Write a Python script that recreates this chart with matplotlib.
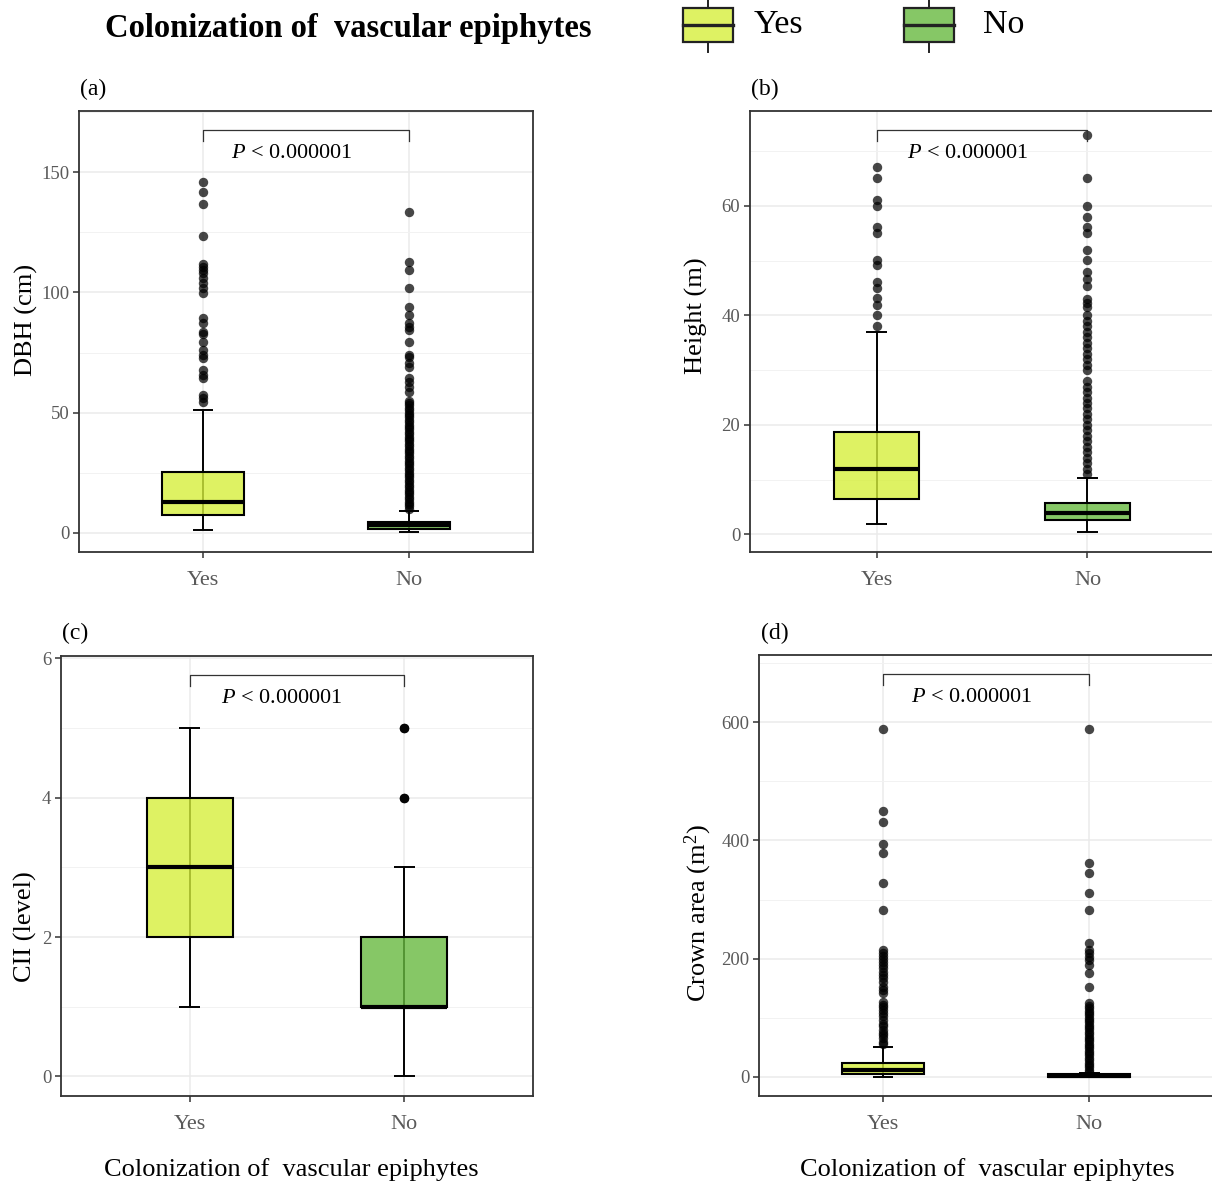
import matplotlib
matplotlib.use("Agg")
import matplotlib.pyplot as plt
from matplotlib.patches import Rectangle
from matplotlib.lines import Line2D
from matplotlib.ticker import MultipleLocator
import matplotlib.transforms as mtransforms

plt.rcParams['font.family'] = ['Liberation Serif', 'DejaVu Serif']
plt.rcParams['mathtext.fontset'] = 'custom'
plt.rcParams['mathtext.rm'] = 'Liberation Serif'
plt.rcParams['mathtext.it'] = 'Liberation Serif:italic'

groups = ["Yes", "No"]
yes_color = (214/255, 239/255, 60/255, 0.8)
no_color = (104/255, 186/255, 64/255, 0.8)
p_text = r'$P$ < 0.000001'
x_title = "Colonization of  vascular epiphytes"

# box stats: whislo, q1, median, q3, whishi
dbh_yes = [1.1, 7.4, 12.9, 25.4, 51.1]
dbh_no = [0.4, 1.5, 3.1, 4.6, 9.2]
dbh_yes_out = [146.1, 141.9, 136.8, 123.5, 111.8, 110.7, 109.3, 107.9, 105.9,
               103.8, 101.7, 99.6, 89.2, 87.1, 83.6, 82.7, 79.5, 76.0, 73.9,
               72.6, 67.7, 65.6, 64.2, 57.3, 55.9, 54.5]
dbh_no_out = [10, 11, 12, 13, 14, 15, 16, 17, 18, 19, 20, 21, 22, 23, 24, 25,
              26, 27, 28, 29, 30, 31, 32, 33, 34, 35, 36, 37, 38, 39, 40, 41,
              42, 43, 44, 45, 46, 47, 48, 49, 50, 51, 52, 53, 54, 55,
              58.7, 60.8, 62.8, 64.2, 69.1, 70.5, 73.2, 73.9, 79.5, 84.4, 85.7,
              87.1, 90.6, 94.0, 101.7, 109.3, 112.8, 133.6]

height_yes = [1.9, 6.4, 11.9, 18.7, 37.0]
height_no = [0.4, 2.6, 3.9, 5.8, 10.3]
height_yes_out = [67.0, 65.0, 61.0, 60.0, 56.1, 55.0, 50.1, 49.2, 46.1, 44.9,
                  43.1, 41.9, 40.0, 38.0]
height_no_out = [72.9, 65.0, 60.0, 58.0, 56.1, 55.0, 51.9, 50.1, 47.9, 46.7,
                 45.3, 43.0, 42.2, 41.6, 40.0, 39, 38, 37, 36, 35, 34, 33, 32,
                 31, 30, 28, 27, 26, 25, 24, 23, 22, 21, 20, 19, 18, 17, 16,
                 15, 14, 13, 12, 11]

cii_yes = [1, 2, 3, 4, 5]
cii_no = [0, 1, 1, 2, 3]
cii_yes_out = []
cii_no_out = [4, 4, 4, 5, 5, 5]

crown_yes = [0, 4.0, 11.0, 23.7, 50.8]
crown_no = [0, 0.3, 1.5, 4.0, 6.8]
crown_yes_out = [589, 450, 432, 394, 379, 328, 282, 214, 209, 205, 200, 195,
                 189, 184, 178, 172, 167, 161, 152, 147, 141, 127, 122, 118,
                 113, 108, 102, 96, 90, 85, 79, 74, 70, 65, 59, 55]
crown_no_out = [589, 361.3, 345.5, 310.5, 282.3, 225.9, 214.5, 209, 203.2,
                197.6, 189.1, 176.1, 152.4, 124, 120, 116, 112, 108, 104, 100,
                96, 92, 88, 84, 80, 76, 72, 68, 64, 60, 56, 52, 48, 44, 40, 36,
                32, 28, 24, 20, 16, 12, 8]

W, H = 1212, 1184
fig = plt.figure(figsize=(W / 100, H / 100), dpi=100)


def px_rect(left, top, right, bottom):
    return [left / W, 1 - bottom / H, (right - left) / W, (bottom - top) / H]


def fx(x):
    return x / W


def fy(y):
    return 1 - y / H


def draw_panel(ax, stats, outs, ylim, major, minor):
    positions = [1, 2]
    colors = [yes_color, no_color]
    ax.set_axisbelow(True)
    ax.grid(which='major', color='#EBEBEB', lw=1.1, zorder=0)
    ax.grid(which='minor', axis='y', color='#F2F2F2', lw=0.7, zorder=0)
    for pos, st in zip(positions, stats):
        ax.vlines(pos, st[0], st[4], colors='black', lw=1.4, zorder=2)
        ax.hlines([st[0], st[4]], pos - 0.05, pos + 0.05, colors='black',
                  lw=1.4, zorder=2)
    bstats = [dict(whislo=s[0], q1=s[1], med=s[2], q3=s[3], whishi=s[4],
                   fliers=[]) for s in stats]
    res = ax.bxp(bstats, positions=positions, widths=0.4, patch_artist=True,
                 showcaps=False, showfliers=False,
                 boxprops=dict(edgecolor='black', lw=1.5),
                 whiskerprops=dict(lw=0),
                 medianprops=dict(color='black', lw=3.0, solid_capstyle='butt'))
    for patch, c in zip(res['boxes'], colors):
        patch.set_facecolor(c)
        patch.set_zorder(3)
    for med in res['medians']:
        med.set_zorder(4)
    for pos, out in zip(positions, outs):
        if out:
            ax.scatter([pos] * len(out), out, s=46, color='black', alpha=0.72,
                       linewidths=0, zorder=5)
    ax.set_xlim(0.4, 2.6)
    ax.set_ylim(*ylim)
    ax.set_xticks(positions)
    ax.set_xticklabels(groups)
    ax.yaxis.set_major_locator(MultipleLocator(major))
    ax.yaxis.set_minor_locator(MultipleLocator(minor))
    ax.tick_params(which='minor', length=0)
    ax.tick_params(axis='y', which='major', length=4, width=1.1,
                   color='#333333', labelcolor='#5A5A5A', labelsize=13.5,
                   pad=3)
    ax.tick_params(axis='x', which='major', length=4, width=1.1,
                   color='#333333', labelcolor='#5A5A5A', labelsize=16,
                   pad=10)
    for sp in ax.spines.values():
        sp.set_color('#333333')
        sp.set_linewidth(1.3)
    # significance bracket
    trans = mtransforms.blended_transform_factory(ax.transData, ax.transAxes)
    ax.plot([1, 1, 2, 2], [0.932, 0.956, 0.956, 0.932], color='#333333',
            lw=0.9, transform=trans, clip_on=False, zorder=6)
    ax.text(1.43, 0.903, p_text, transform=trans, ha='center', va='center',
            fontsize=16, color='black', zorder=6)


ax_a = fig.add_axes(px_rect(79, 111, 533, 552))
ax_b = fig.add_axes(px_rect(750, 111, 1214, 552))
ax_c = fig.add_axes(px_rect(61, 656, 533, 1096))
ax_d = fig.add_axes(px_rect(759, 655, 1213, 1096))

draw_panel(ax_a, [dbh_yes, dbh_no], [dbh_yes_out, dbh_no_out],
           (-8.0, 175.5), 50, 25)
draw_panel(ax_b, [height_yes, height_no], [height_yes_out, height_no_out],
           (-3.2, 77.3), 20, 10)
draw_panel(ax_c, [cii_yes, cii_no], [cii_yes_out, cii_no_out],
           (-0.28, 6.03), 2, 1)
draw_panel(ax_d, [crown_yes, crown_no], [crown_yes_out, crown_no_out],
           (-32.7, 714), 200, 100)

# axis titles
fig.text(fx(26), fy(320), "DBH (cm)", rotation=90, ha='center', va='center',
         fontsize=19)
fig.text(fx(696), fy(316), "Height (m)", rotation=90, ha='center',
         va='center', fontsize=19)
fig.text(fx(25), fy(927), "CII (level)", rotation=90, ha='center',
         va='center', fontsize=19)
fig.text(fx(698), fy(913), r"Crown area (m$^2$)", rotation=90, ha='center',
         va='center', fontsize=19)
fig.text(fx(291), fy(1170), x_title, ha='center', va='center', fontsize=19)
fig.text(fx(987), fy(1170), x_title, ha='center', va='center', fontsize=19)

# panel tags
for label, x, y in [("(a)", 80, 89), ("(b)", 751, 89),
                    ("(c)", 62, 633), ("(d)", 761, 633)]:
    fig.text(fx(x), fy(y), label, ha='left', va='center', fontsize=17)

# title and legend
fig.text(fx(348), fy(29), x_title, ha='center', va='center', fontsize=23.5,
         fontweight='bold')

for name, color, left, text_x in [("Yes", yes_color, 683, 754),
                                  ("No", no_color, 904, 983)]:
    right = left + 50
    mid = (left + right) / 2
    fig.add_artist(Line2D([fx(mid), fx(mid)], [fy(0), fy(52)],
                          color='#222222', lw=1.4, transform=fig.transFigure,
                          zorder=1))
    fig.add_artist(Rectangle((fx(left), fy(42)), fx(right) - fx(left),
                             fy(8) - fy(42), facecolor='white',
                             edgecolor='none', transform=fig.transFigure,
                             zorder=2))
    fig.add_artist(Rectangle((fx(left), fy(42)), fx(right) - fx(left),
                             fy(8) - fy(42), facecolor=color,
                             edgecolor='#222222', lw=1.6,
                             transform=fig.transFigure, zorder=3))
    fig.add_artist(Line2D([fx(left), fx(right)], [fy(24.5), fy(24.5)],
                          color='#222222', lw=2.4, transform=fig.transFigure,
                          zorder=4))
    fig.text(fx(text_x), fy(25), name, ha='left', va='center', fontsize=24.5)

fig.savefig("out.png", dpi=100)
